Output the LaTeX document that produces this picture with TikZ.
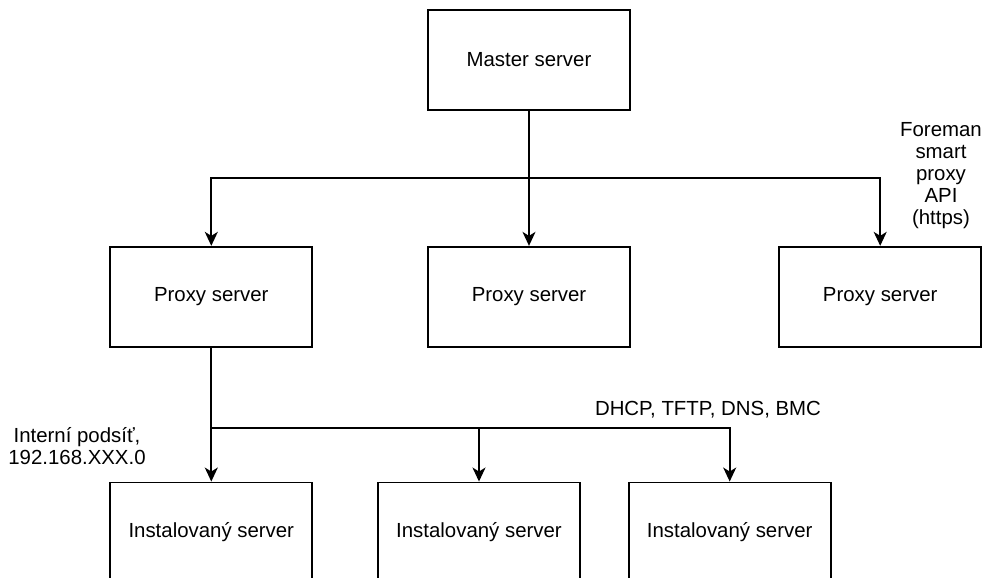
\documentclass[tikz,border=0pt]{standalone}
\usepackage{fontspec}
\setmainfont{Liberation Sans}
\usetikzlibrary{positioning,arrows.meta}
\tikzset{
  box/.style = {rectangle, draw, line width=1.7pt,
                minimum width = 202pt, minimum height = 100pt,
                font = \fontsize{20.4}{22}\selectfont},
  arr/.style = {-{Stealth[length=14pt,width=13pt,inset=4pt]}, line width=1.7pt},
  lab/.style = {font=\fontsize{20.4}{22}\selectfont, align=center}
}
\begin{document}
\begin{tikzpicture}[x=1pt,y=-1pt]
  \useasboundingbox (0,0) rectangle (989,578);
  \node[box] (master) at (529,60) {Master server};
  \node[box,below=135pt of master] (proxyB) {Proxy server};
  \node[box,left=114pt of proxyB] (proxyA) {Proxy server};
  \node[box,right=147.5pt of proxyB] (proxyC) {Proxy server};
  \node[box,below=134pt of proxyA] (instA) {Instalovaný server};
  \node[box,right=64pt of instA] (instB) {Instalovaný server};
  \node[box,right=47pt of instB] (instC) {Instalovaný server};
  \coordinate (busTop) at (529,178);
  \coordinate (busLow) at (211,428);
  \draw[arr](master.south)--(proxyB.north);
  \draw[arr](busTop)-|(proxyA.north);
  \draw[arr](busTop)-|(proxyC.north);
  \draw[arr](proxyA.south)--(instA.north);
  \draw[arr](busLow)-|(instB.north);
  \draw[arr](busLow)-|(instC.north);
  \node[lab] (apiLab) at (941,176) {Foreman\\smart\\proxy\\API\\(https)};
  \node[lab] (svcLab) at (708,410) {DHCP, TFTP, DNS, BMC};
  \node[lab] (netLab) at (77,446) {Interní podsíť,\\192.168.XXX.0};
\end{tikzpicture}
\end{document}
